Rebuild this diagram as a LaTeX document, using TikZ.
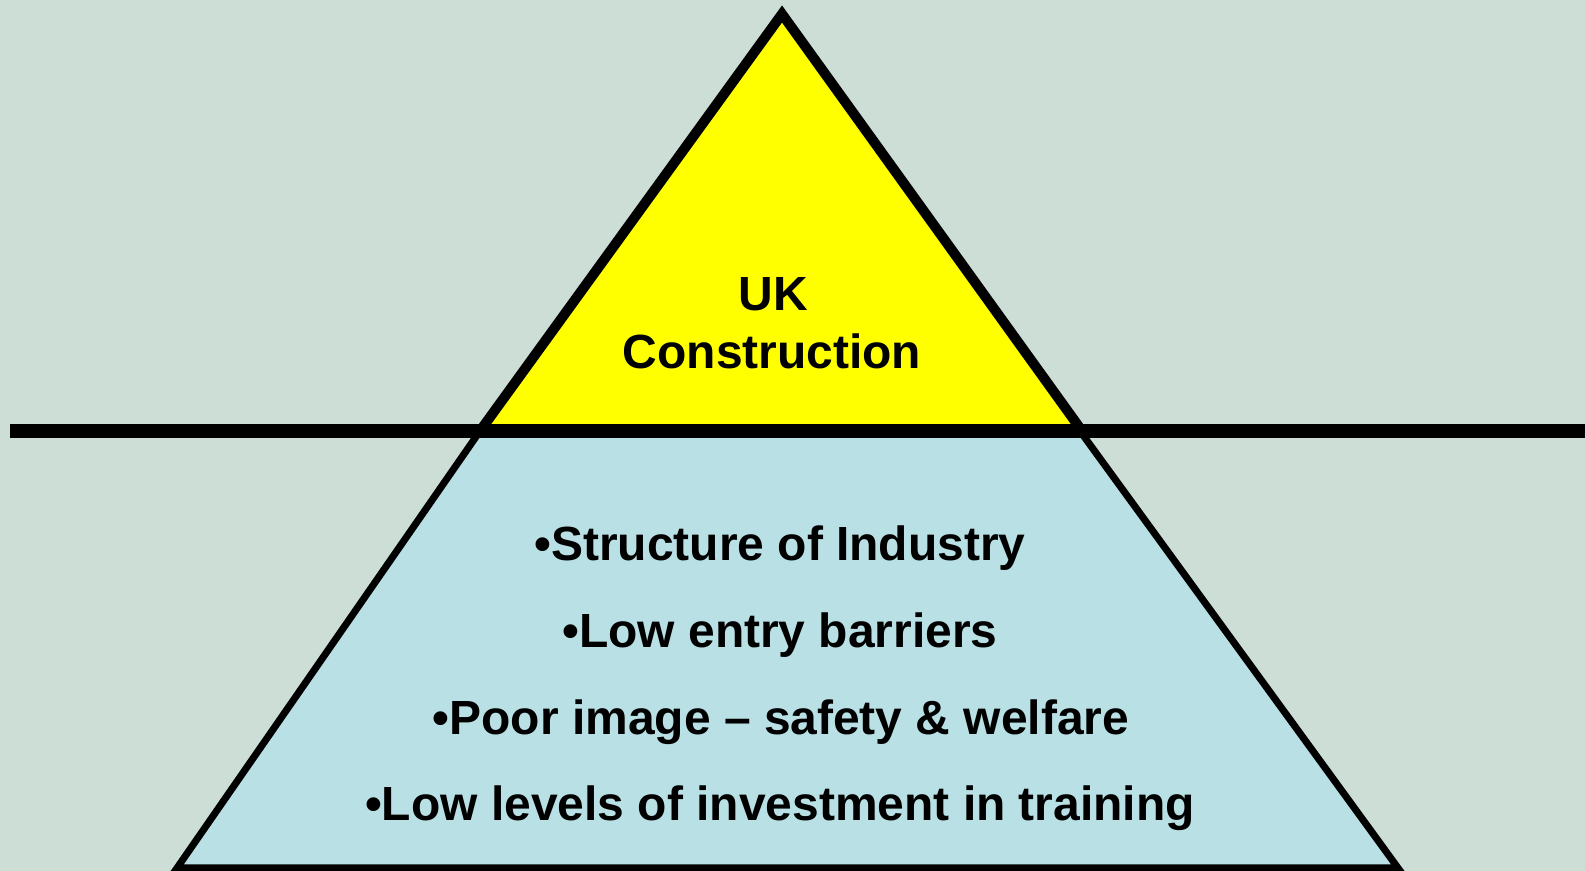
\documentclass[tikz,border=0pt]{standalone}
\usepackage{fontspec}
\setmainfont{Liberation Sans}
\usepackage{xcolor}
\usetikzlibrary{positioning}

\definecolor{sea}{RGB}{204, 222, 214}
\definecolor{below}{RGB}{185, 224, 228}
\definecolor{above}{RGB}{255, 255, 0}

\begin{document}
\begin{tikzpicture}[x = 0.02cm, y = -0.02cm,
    reason/.style = {anchor = base, font = \bfseries\fontsize{27.3}{32}\selectfont, inner sep = 0pt}]

    \useasboundingbox (0, 0) rectangle (1585, 871);
    \fill [sea] (0, 0) rectangle (1585, 871);

    \draw [fill = below, line width = 4pt, line join = miter] (480, 431) -- (1080, 431) -- (1398, 868) -- (177, 868) -- cycle;
    \draw [fill = above, line width = 5.7pt, line join = miter] (782, 14) -- (1082, 431) -- (480, 431) -- cycle;
    \draw [line width = 7.4pt] (10, 431) -- (1590, 431);

    \node [reason] (uk) at (773, 311) {UK};
    \node [reason] (construction) at (772, 369) {Construction};

    \node [reason] (structure) at (780, 560) {•Structure of Industry};
    \node [reason] (entry) at (780, 647) {•Low entry barriers};
    \node [reason] (image) at (781, 734) {•Poor image – safety \& welfare};
    \node [reason] (training) at (780, 820) {•Low levels of investment in training};
\end{tikzpicture}
\end{document}
